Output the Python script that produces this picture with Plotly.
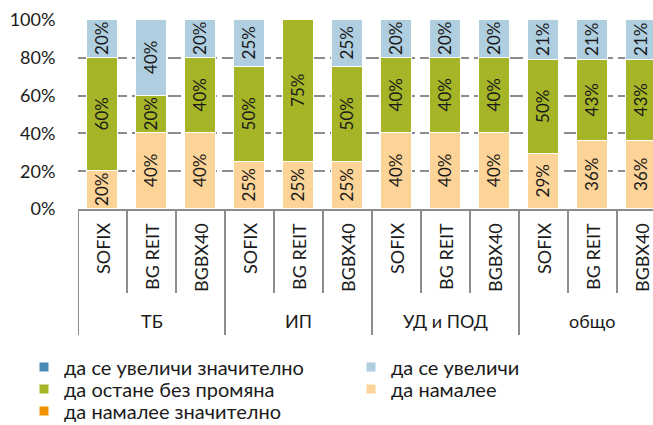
import plotly.graph_objects as go

groups = ["ТБ", "ИП", "УД и ПОД", "общо"]
indices = ["SOFIX", "BG REIT", "BGBX40"]

# values per bar (group-major order), in %
dec_sig = [0, 0, 0, 0, 0, 0, 0, 0, 0, 0, 0, 0]
dec = [20, 40, 40, 25, 25, 25, 40, 40, 40, 29, 36, 36]
same = [60, 20, 40, 50, 75, 50, 40, 40, 40, 50, 43, 43]
inc = [20, 40, 20, 25, 0, 25, 20, 20, 20, 21, 21, 21]
inc_sig = [0, 0, 0, 0, 0, 0, 0, 0, 0, 0, 0, 0]

# (name, values, colour, legend slot) in stacking order (bottom first)
series = [
    ("да намалее значително", dec_sig, "#F39200", "legend5"),
    ("да намалее", dec, "#FDD497", "legend4"),
    ("да остане без промяна", same, "#A5B527", "legend3"),
    ("да се увеличи", inc, "#AFCFE1", "legend2"),
    ("да се увеличи значително", inc_sig, "#4A8AB7", "legend"),
]

FONT = "Lato"
TXT = "#1a1a1a"
GRID = "#8c8c8c"

n = len(groups) * len(indices)
xs = list(range(n))

fig = go.Figure()
for name, vals, color, leg in series:
    fig.add_trace(go.Bar(
        x=xs, y=[v / 100 for v in vals], name=name,
        marker=dict(color=color, line=dict(color="white", width=1.5)),
        width=0.62,
        text=[f"{v}%" if v > 0 else "" for v in vals],
        textposition="inside", insidetextanchor="middle", textangle=-90,
        textfont=dict(family=FONT, size=17, color=TXT),
        showlegend=False, hoverinfo="skip",
    ))
# legend proxies (small square keys, no data drawn)
for name, vals, color, leg in series:
    fig.add_trace(go.Scatter(
        x=[None], y=[None], mode="markers", name=name,
        marker=dict(symbol="square", size=9, color=color),
        legend=leg, showlegend=True, hoverinfo="skip",
    ))

annotations = []
shapes = []
for gi, g in enumerate(groups):
    for ii, ind in enumerate(indices):
        i = gi * len(indices) + ii
        annotations.append(dict(
            x=i, y=0, xref="x", yref="paper", text=ind, textangle=-90,
            showarrow=False, yanchor="top", xanchor="center", yshift=-12,
            font=dict(family=FONT, size=18, color=TXT)))
        if ii > 0:
            shapes.append(dict(type="line", xref="x", yref="paper",
                               x0=i - 0.5, x1=i - 0.5, y0=0, y1=-84,
                               ysizemode="pixel", yanchor=0,
                               line=dict(color=GRID, width=2)))
    center = gi * len(indices) + (len(indices) - 1) / 2
    annotations.append(dict(
        x=center, y=0, xref="x", yref="paper", text=g, showarrow=False,
        yanchor="middle", xanchor="center", yshift=-112,
        font=dict(family=FONT, size=18, color=TXT)))
    shapes.append(dict(type="line", xref="x", yref="paper",
                       x0=gi * len(indices) - 0.5, x1=gi * len(indices) - 0.5,
                       y0=0, y1=-126, ysizemode="pixel", yanchor=0,
                       line=dict(color=GRID, width=2)))

H = 425.0
def leg(xpx, ypx):
    return dict(orientation="h", xref="container", yref="container",
                x=xpx / 653.0, y=1 - ypx / H, xanchor="left", yanchor="middle",
                font=dict(family=FONT, size=20, color=TXT),
                bgcolor="rgba(0,0,0,0)", itemclick=False,
                itemdoubleclick=False)

fig.update_layout(
    width=653, height=425,
    margin=dict(l=78, r=0, t=20, b=216),
    barmode="stack", bargap=0,
    plot_bgcolor="white", paper_bgcolor="white",
    font=dict(family=FONT, color=TXT),
    uniformtext=dict(minsize=17, mode="show"),
    xaxis=dict(type="linear", range=[-0.5, 11.235], autorange=False,
               showticklabels=False, showgrid=False,
               zeroline=False, showline=True, linecolor=GRID, linewidth=2,
               ticks=""),
    yaxis=dict(type="linear", range=[0, 1], autorange=False,
               tickvals=[0, 0.2, 0.4, 0.6, 0.8, 1.0],
               ticktext=["0%", "20%", "40%", "60%", "80%", "100%"],
               tickfont=dict(family=FONT, size=18, color=TXT),
               showgrid=True, gridcolor=GRID, gridwidth=2, griddash="13px,5px",
               zeroline=False, showline=False,
               ticks="outside", ticklen=18, tickcolor="rgba(0,0,0,0)"),
    legend=leg(24, 367),
    legend2=leg(351, 367),
    legend3=leg(24, 389),
    legend4=leg(351, 389),
    legend5=leg(24, 411),
    annotations=annotations, shapes=shapes,
    showlegend=True,
)

fig.write_html("out.html")
